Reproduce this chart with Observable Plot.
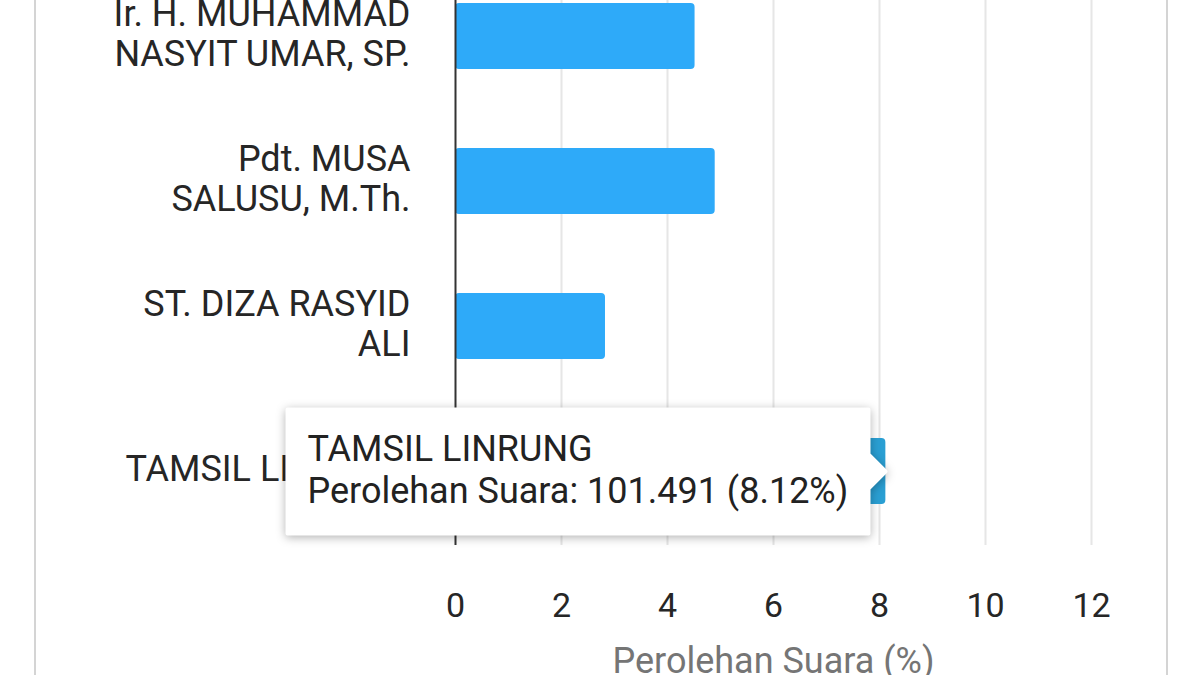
<!DOCTYPE html>
<html>
<head>
<meta charset="utf-8">
<script src="https://cdn.jsdelivr.net/npm/d3@7"></script>
<script src="https://cdn.jsdelivr.net/npm/@observablehq/plot@0.6"></script>
<style>
  html, body { margin: 0; padding: 0; background: #fff; }
  #card { position: relative; width: 1200px; height: 675px; overflow: hidden; background: #fff; font-family: Roboto, sans-serif; }
  #card .edge { position: absolute; top: 0; bottom: 0; width: 2px; background: #d4d4d4; }
  #chart { position: absolute; left: 0; top: -38px; }
  #chart svg [aria-label="x-axis label"] text { fill: #757575; }
  #chart svg [aria-label="tip"] path { stroke-linejoin: round; }
</style>
</head>
<body>
<div id="card">
  <div class="edge" style="left:34px"></div>
  <div class="edge" style="left:1166px"></div>
  <div id="chart"></div>
</div>
<script>
// Candidates (visible part of the chart), top to bottom
const candidates = [
  "Ir. H. MUHAMMAD NASYIT UMAR, SP.",
  "Pdt. MUSA SALUSU, M.Th.",
  "ST. DIZA RASYID ALI",
  "TAMSIL LINRUNG"
];
// Wrapped axis labels as shown
const candidateLabels = [
  "Ir. H. MUHAMMAD\nNASYIT UMAR, SP.",
  "Pdt. MUSA\nSALUSU, M.Th.",
  "ST. DIZA RASYID\nALI",
  "TAMSIL LINRUNG"
];
// Vote share (%)
const percentages = [4.52, 4.90, 2.83, 8.12];
// Highlighted (hovered) candidate and its tooltip values
const hovered = "TAMSIL LINRUNG";
const hoveredVotes = "101.491";
const xTicks = [0, 2, 4, 6, 8, 10, 12];
const xLabel = "Perolehan Suara (%)";

const data = candidates.map((name, i) => ({name, label: candidateLabels[i], pct: percentages[i]}));
const labelOf = new Map(data.map(d => [d.name, d.label]));

const chart = Plot.plot({
  width: 1200,
  height: 743,
  marginTop: 0,
  marginBottom: 160,
  marginLeft: 455,
  marginRight: 109,
  style: {fontFamily: "Roboto, sans-serif", fontSize: "36px", color: "#222", background: "transparent"},
  x: {domain: [0, 12], ticks: xTicks},
  y: {domain: candidates, paddingInner: 0.543, paddingOuter: 0.275},
  marks: [
    Plot.gridX(xTicks.filter(t => t > 0), {stroke: "#e6e6e6", strokeOpacity: 1, strokeWidth: 2}),
    Plot.barX(data, {
      x: "pct", y: "name", rx: 4,
      fill: d => d.name === hovered ? "#2a9fd3" : "#2eaaf9"
    }),
    Plot.ruleX([0], {stroke: "#333", strokeWidth: 2}),
    Plot.axisY({
      tickSize: 0, tickPadding: 45, fontSize: 36, lineHeight: 1.11, dy: -3,
      tickFormat: n => labelOf.get(n), fill: "#262626", label: null
    }),
    Plot.axisX(xTicks, {
      tickSize: 0, tickPadding: 47, fontSize: 34, fill: "#262626",
      label: xLabel, labelAnchor: "center", labelArrow: "none", labelOffset: 127
    }),
    Plot.tip(data.filter(d => d.name === hovered), {
      x: "pct", y: "name", anchor: "right", dx: 0,
      title: d => `${d.name}\nPerolehan Suara: ${hoveredVotes} (${d.pct}%)`,
      fontSize: 36, lineHeight: 1.18, textPadding: 20, lineWidth: 60,
      pointerSize: 34, fill: "white", stroke: "white", strokeWidth: 4,
      pathFilter: "drop-shadow(0 2px 5px rgba(0,0,0,0.3))"
    })
  ]
});
// axis title is a little larger than the tick labels
chart.querySelectorAll('[aria-label="x-axis label"] text').forEach(t => t.setAttribute("font-size", 36));
document.getElementById("chart").appendChild(chart);
</script>
</body>
</html>
